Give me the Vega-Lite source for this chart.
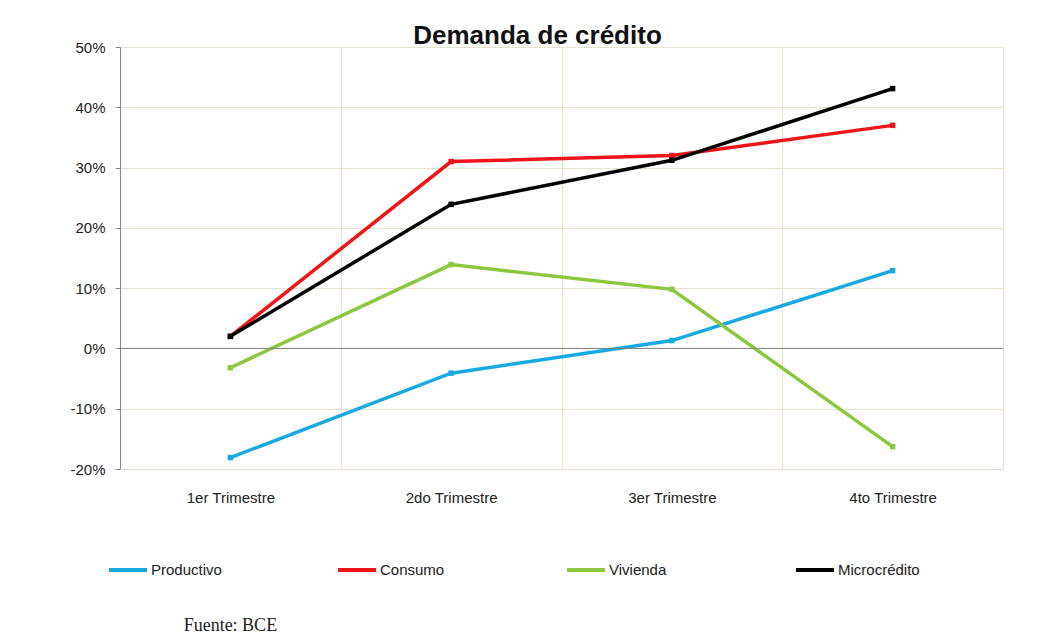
{
  "$schema": "https://vega.github.io/schema/vega-lite/v6.json",
  "width": 883,
  "height": 422,
  "autosize": {"type": "none"},
  "padding": {"left": 120, "top": 47, "right": 58, "bottom": 168},
  "background": "white",
  "title": {"text": "Demanda de crédito", "font": "Liberation Sans", "fontSize": 26, "fontWeight": "bold", "color": "#111111", "anchor": "middle", "dx": -24, "offset": -9},
  "config": {"view": {"stroke": null}, "font": "Liberation Sans", "axis": {"grid": true, "gridColor": "#e8e1cc"}},
  "data": {"values": [
    {"q": "1er Trimestre", "s": "Productivo", "v": -0.181},
    {"q": "2do Trimestre", "s": "Productivo", "v": -0.041},
    {"q": "3er Trimestre", "s": "Productivo", "v": 0.013},
    {"q": "4to Trimestre", "s": "Productivo", "v": 0.129},
    {"q": "1er Trimestre", "s": "Consumo", "v": 0.02},
    {"q": "2do Trimestre", "s": "Consumo", "v": 0.31},
    {"q": "3er Trimestre", "s": "Consumo", "v": 0.32},
    {"q": "4to Trimestre", "s": "Consumo", "v": 0.37},
    {"q": "1er Trimestre", "s": "Vivienda", "v": -0.032},
    {"q": "2do Trimestre", "s": "Vivienda", "v": 0.139},
    {"q": "3er Trimestre", "s": "Vivienda", "v": 0.098},
    {"q": "4to Trimestre", "s": "Vivienda", "v": -0.163},
    {"q": "1er Trimestre", "s": "Microcrédito", "v": 0.02},
    {"q": "2do Trimestre", "s": "Microcrédito", "v": 0.239},
    {"q": "3er Trimestre", "s": "Microcrédito", "v": 0.312},
    {"q": "4to Trimestre", "s": "Microcrédito", "v": 0.431}
  ]},
  "layer": [
    {
      "mark": {"type": "line", "strokeWidth": 3.5, "point": {"shape": "square", "size": 30, "filled": true}},
      "encoding": {
        "x": {
          "field": "q", "type": "ordinal",
          "sort": ["1er Trimestre", "2do Trimestre", "3er Trimestre", "4to Trimestre"],
          "scale": {"type": "band", "paddingInner": 0, "paddingOuter": 0},
          "axis": {"title": null, "labelAngle": 0, "tickBand": "extent", "domain": false, "ticks": false, "grid": true, "gridColor": "#e8e1cc", "labelFontSize": 15, "labelColor": "#222222", "labelPadding": 21}
        },
        "y": {
          "field": "v", "type": "quantitative",
          "scale": {"domain": [-0.2, 0.5], "nice": false},
          "axis": {"title": null, "format": ".0%", "labelExpr": "replace(datum.label, '\u2212', '-')", "values": [-0.2, -0.1, 0, 0.1, 0.2, 0.3, 0.4, 0.5], "grid": true, "domainColor": "#888888", "tickColor": "#888888", "tickSize": 5, "gridColor": "#e8e1cc", "labelFontSize": 15, "labelColor": "#222222", "labelPadding": 10}
        },
        "color": {
          "field": "s", "type": "nominal",
          "scale": {"domain": ["Productivo", "Consumo", "Vivienda", "Microcrédito"], "range": ["#19A9E1", "#F0141A", "#8DC63F", "#000000"]},
          "legend": {"title": null, "orient": "none", "legendX": -13, "legendY": 502, "direction": "horizontal", "columns": 4, "gridAlign": "all", "columnPadding": 97, "symbolType": "stroke", "symbolStrokeWidth": 4, "symbolSize": 1444, "labelOffset": 2, "labelFontSize": 15, "labelColor": "#222222"}
        }
      }
    },
    {
      "data": {"values": [{"label": "0"}]},
      "mark": {"type": "rule", "color": "#808080", "strokeWidth": 1},
      "encoding": {"y": {"datum": 0, "type": "quantitative"}}
    },
    {
      "data": {"values": [{"label": "Fuente: BCE"}]},
      "mark": {"type": "text", "font": "Liberation Serif", "fontSize": 18, "fontWeight": "normal", "color": "#222222"},
      "encoding": {
        "x": {"datum": "1er Trimestre", "type": "ordinal"},
        "y": {"datum": -0.46, "type": "quantitative"},
        "text": {"field": "label"}
      }
    }
  ]
}
